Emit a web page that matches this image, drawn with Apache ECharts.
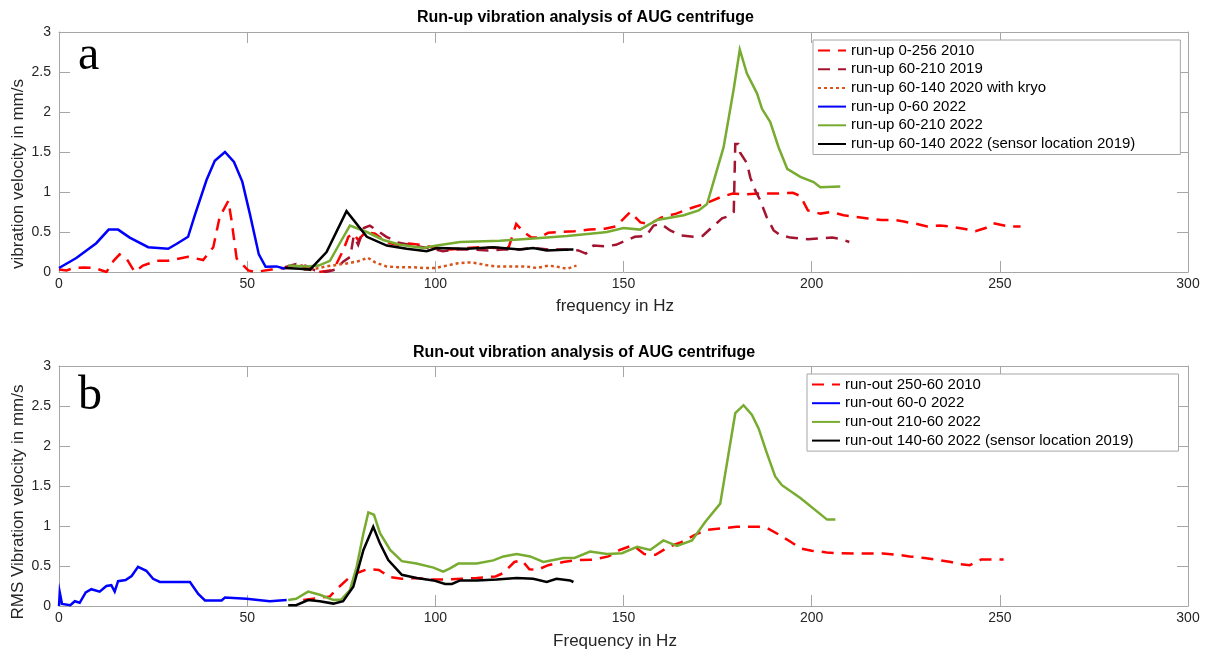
<!DOCTYPE html>
<html>
<head>
<meta charset="utf-8">
<title>AUG centrifuge vibration analysis</title>
<script src="https://cdn.jsdelivr.net/npm/echarts@6/dist/echarts.min.js"></script>
<style>
  html, body { margin: 0; padding: 0; background: #ffffff; }
  #chart { width: 1206px; height: 650px; }
</style>
</head>
<body>
<div id="chart"></div>
<script>
// ---- Axis ticks ----
const freqTicks = { min: 0, max: 300, step: 50 };
const velTicks = { min: 0, max: 3, step: 0.5 };

// ---- Run-up measurements: [frequency Hz, velocity mm/s] ----
const runUp2010 = [
  [0,0.03],[2,0.02],[4,0.05],[6.4,0.055],[9.5,0.05],[12.6,0.0],[14.5,0.14],[16.1,0.22],[17.9,0.17],
  [20.1,0.0],[22.3,0.08],[25.9,0.14],[29,0.14],[34.3,0.19],[38.3,0.15],[41,0.31],[42.7,0.69],
  [45,0.89],[45.8,0.66],[47.2,0.17],[50.3,0.02],[52,0.0],[56.5,0.03],[60,0.05],[64.5,0.08],
  [66.5,0.03],[69,0.0],[72,0.02],[73.5,0.08],[75.5,0.27],[76.9,0.44],[78.2,0.48],[79.5,0.4],
  [81.5,0.5],[84,0.48],[86.2,0.4],[88,0.36],[90,0.34],[93,0.355],[96,0.34],[100,0.3],[104,0.28],
  [108,0.3],[112,0.31],[116,0.3],[119.5,0.31],[121.5,0.6],[123.5,0.5],[125.5,0.43],[127.5,0.43],
  [130,0.49],[133,0.5],[137,0.51],[141,0.53],[145,0.54],[148,0.57],[151.8,0.75],[154.5,0.62],
  [157,0.6],[160,0.68],[164,0.73],[168,0.8],[172,0.86],[176,0.94],[179,0.98],[182,0.97],
  [186,0.98],[190,0.98],[195,0.99],[197,0.95],[199,0.77],[202.3,0.73],[205,0.75],[208.5,0.71],
  [211.6,0.69],[215,0.67],[218.6,0.65],[222,0.65],[224.5,0.63],[228,0.6],[230.7,0.57],[234,0.58],
  [236.5,0.57],[240.4,0.54],[243.5,0.51],[246.2,0.55],[248.3,0.61],[252.3,0.57],[255.5,0.57]
];
const runUp2019 = [
  [60,0.06],[63,0.1],[65.5,0.08],[68,0.02],[71,0.0],[73.5,0.03],[75.5,0.13],[77.4,0.19],[78.3,0.45],
  [79.5,0.34],[81,0.55],[82.6,0.58],[84.5,0.52],[87,0.44],[90,0.37],[94,0.33],[98,0.3],[102,0.26],
  [106,0.28],[110,0.28],[114,0.27],[118,0.28],[122,0.28],[126,0.3],[130,0.28],[134,0.28],[138,0.27],
  [140,0.23],[142,0.33],[145,0.32],[148,0.34],[151,0.4],[153,0.44],[156,0.45],[158,0.58],[160,0.6],
  [162.4,0.52],[165,0.46],[168.6,0.44],[171,0.45],[174,0.58],[176.2,0.67],[178,0.7],[179.3,0.75],
  [179.7,1.6],[180.5,1.6],[181,1.49],[182.8,1.36],[183.7,1.18],[185,1.02],[186.3,0.9],[188,0.69],
  [189.9,0.52],[191.7,0.46],[194.3,0.43],[197,0.42],[199,0.41],[202.5,0.42],[205.5,0.43],
  [208,0.41],[210,0.375]
];
const runUp2020Kryo = [
  [65,0.03],[68,0.04],[71,0.07],[74,0.09],[77,0.11],[80,0.14],[82,0.18],[84,0.12],[87,0.07],
  [90,0.06],[94,0.06],[97,0.05],[100,0.05],[103,0.08],[106,0.11],[109,0.12],[111,0.11],[113,0.09],
  [116,0.07],[120,0.07],[124,0.07],[127,0.05],[130,0.08],[132,0.07],[135,0.04],[137.5,0.08]
];
const runUp2022Low = [
  [0,0.05],[4.6,0.175],[9.9,0.36],[13.2,0.53],[15.7,0.53],[18.8,0.43],[23.7,0.31],[29,0.29],
  [31.2,0.35],[34.3,0.44],[36.1,0.71],[39.2,1.15],[41.4,1.39],[44.1,1.5],[46.5,1.375],[48.7,1.13],
  [50.7,0.73],[53.1,0.22],[54.9,0.065],[57.8,0.07],[60,0.04]
];
const runUp2022High = [
  [60.9,0.08],[66.2,0.07],[69,0.08],[72,0.14],[74.5,0.35],[77.3,0.58],[81.8,0.5],[86.2,0.4],
  [90.6,0.34],[96.8,0.3],[100.4,0.33],[106.6,0.375],[117.2,0.39],[126,0.42],[135,0.45],
  [143.8,0.49],[145.6,0.5],[150,0.55],[154.4,0.53],[158.9,0.65],[166,0.71],[170,0.77],[172.2,0.85],
  [176.6,1.56],[179.3,2.29],[180.9,2.78],[182.8,2.48],[185.5,2.23],[186.8,2.04],[189,1.875],
  [191.2,1.56],[193.5,1.29],[197,1.19],[200.5,1.125],[202.3,1.06],[207.6,1.07]
];
const runUp2022Sensor = [
  [60,0.05],[64,0.04],[66.7,0.03],[71.1,0.25],[76.4,0.76],[81.8,0.44],[87.1,0.33],[92.4,0.29],
  [97.7,0.26],[100.4,0.3],[108.4,0.29],[115.4,0.31],[122.5,0.28],[126,0.3],[129.6,0.27],
  [135.8,0.28],[136.7,0.28]
];

// ---- Run-out measurements: [frequency Hz, RMS velocity mm/s] ----
const runOut2010 = [
  [64.9,0.075],[69,0.1],[72,0.12],[74,0.22],[77,0.35],[79,0.41],[82,0.46],[85,0.45],[88,0.36],
  [91,0.34],[95,0.35],[99,0.33],[103,0.33],[107,0.34],[111,0.35],[116,0.37],[118,0.41],[121,0.55],
  [123,0.57],[125,0.46],[127,0.45],[130,0.51],[134,0.55],[138,0.575],[142,0.58],[146,0.62],
  [149,0.7],[152.5,0.76],[155.5,0.65],[158.5,0.64],[162,0.74],[165,0.79],[169,0.89],[172,0.95],
  [176,0.97],[180,0.99],[186,0.99],[188,0.98],[191,0.9],[194.5,0.8],[197,0.72],[200,0.69],
  [204,0.67],[207,0.66],[212,0.655],[219,0.655],[223,0.64],[226,0.62],[230,0.6],[233,0.58],
  [237,0.55],[239,0.525],[242,0.51],[245,0.58],[248,0.58],[251,0.58]
];
const runOut2022Low = [
  [0,0.0],[0.2,0.17],[0.8,0.025],[3,0.01],[4.2,0.06],[5.5,0.04],[7.1,0.17],[8.6,0.21],[10.8,0.18],
  [12.6,0.25],[13.9,0.26],[14.8,0.18],[15.7,0.31],[17.7,0.325],[19.3,0.375],[21,0.49],[21.4,0.5],
  [23.2,0.44],[25,0.34],[26.8,0.3],[31.2,0.3],[34.8,0.3],[37,0.15],[38.8,0.07],[43.2,0.07],
  [44.1,0.105],[49.8,0.09],[56,0.06],[60.5,0.075]
];
const runOut2022High = [
  [60.9,0.075],[63,0.09],[66.2,0.18],[69.3,0.14],[72.9,0.075],[75,0.08],[77.3,0.2],[79.1,0.49],
  [80.9,0.91],[82.2,1.17],[83.7,1.14],[85.3,0.91],[88,0.7],[91.1,0.56],[95,0.53],[99.5,0.48],
  [102.1,0.43],[103.9,0.47],[106.1,0.53],[111,0.53],[115.4,0.57],[118.1,0.62],[121.6,0.65],
  [125.2,0.62],[128.7,0.55],[131.4,0.575],[134,0.6],[137,0.6],[141.1,0.68],[145.6,0.65],
  [149.6,0.66],[153.6,0.74],[157.1,0.7],[160.6,0.82],[164.2,0.75],[168.2,0.82],[171.7,1.05],
  [175.7,1.28],[179.7,2.41],[181.9,2.51],[184.1,2.39],[185.9,2.22],[188.1,1.91],[190.3,1.62],
  [192.1,1.51],[197,1.35],[204.1,1.08],[206.3,1.08]
];
const runOut2022Sensor = [
  [60.9,0.01],[63,0.01],[66.2,0.075],[69.3,0.06],[72.9,0.03],[75.5,0.06],[78.2,0.24],[80.9,0.7],
  [83.5,0.99],[85.3,0.78],[87.5,0.575],[91.1,0.39],[95,0.35],[99.5,0.32],[102.6,0.275],
  [104.4,0.275],[106.6,0.32],[111,0.32],[116.3,0.33],[121.6,0.35],[126,0.34],[129.6,0.3],
  [132.2,0.34],[135.8,0.32],[136.7,0.3]
];

// ---- Series names ----
const upNames = [
  'run-up 0-256 2010',
  'run-up 60-210 2019',
  'run-up 60-140 2020 with kryo',
  'run-up 0-60 2022',
  'run-up 60-210 2022',
  'run-up 60-140 2022 (sensor location 2019)'
];
const outNames = [
  'run-out 250-60 2010',
  'run-out 60-0 2022',
  'run-out 210-60 2022',
  'run-out 140-60 2022 (sensor location 2019)'
];

const FONT = '"Liberation Sans", Arial, Helvetica, sans-serif';
const SERIF = '"Liberation Serif", "Times New Roman", serif';
const AXIS_GRAY = '#a6a6a6';
const LABEL_COLOR = '#262626';
const RED = '#ff0000', MAROON = '#a2142f', ORANGE = '#d95319',
      BLUE = '#0000ff', GREEN = '#77ac30', BLACK = '#000000';
const DASH = [12, 8];
const DOT = [3, 3];

function xAxisFor(gridIndex, position) {
  const main = position === 'bottom';
  return {
    gridIndex, type: 'value', position,
    min: freqTicks.min, max: freqTicks.max, interval: freqTicks.step,
    axisLine: { show: true, onZero: false, lineStyle: { color: AXIS_GRAY, width: 1 } },
    axisTick: { show: true, inside: true, length: 11, lineStyle: { color: AXIS_GRAY } },
    axisLabel: { show: main, color: LABEL_COLOR, fontSize: 14, fontFamily: FONT, margin: 5 },
    splitLine: { show: false }
  };
}
function yAxisFor(gridIndex, position) {
  const main = position === 'left';
  return {
    gridIndex, type: 'value', position,
    min: velTicks.min, max: velTicks.max, interval: velTicks.step,
    axisLine: { show: true, onZero: false, lineStyle: { color: AXIS_GRAY, width: 1 } },
    axisTick: { show: true, inside: true, length: 11, lineStyle: { color: AXIS_GRAY } },
    axisLabel: { show: main, color: LABEL_COLOR, fontSize: 14, fontFamily: FONT, margin: 8 },
    splitLine: { show: false }
  };
}
function line(name, data, color, xi, yi, dash, width) {
  return {
    name, type: 'line', data, xAxisIndex: xi, yAxisIndex: yi,
    symbol: 'none', showSymbol: false, smooth: false, clip: true,
    lineStyle: { color, width: width || 2.5, type: dash || 'solid', cap: 'butt', join: 'miter' },
    itemStyle: { color },
    emphasis: { disabled: true }
  };
}
function legendFor(names, left, top) {
  return {
    data: names, orient: 'vertical', left, top,
    backgroundColor: '#ffffff', borderColor: AXIS_GRAY, borderWidth: 1, borderRadius: 0,
    padding: [3, 45, 3, 4], itemGap: 3.7, itemWidth: 28, itemHeight: 15,
    itemStyle: { opacity: 0 },
    textStyle: { color: '#000000', fontSize: 15, fontFamily: FONT, lineHeight: 15 },
    selectedMode: false
  };
}
// axis titles and panel letters
function axisTitle(text, x, y, vertical) {
  return {
    type: 'text', x, y, rotation: vertical ? Math.PI / 2 : 0, silent: true,
    style: { text, font: '17px ' + FONT, fill: LABEL_COLOR, align: 'center', verticalAlign: 'middle' }
  };
}
function panelLetter(text, x, y) {
  return {
    type: 'text', x, y, silent: true,
    style: { text, font: '48px ' + SERIF, fill: '#000000', align: 'left', verticalAlign: 'top' }
  };
}

const chart = echarts.init(document.getElementById('chart'), null, { renderer: 'canvas' });
chart.setOption({
  animation: false,
  backgroundColor: '#ffffff',
  title: [
    { text: 'Run-up vibration analysis of AUG centrifuge', left: 417, top: 10, padding: 0,
      textStyle: { fontSize: 16, fontWeight: 'bold', color: '#000', fontFamily: FONT } },
    { text: 'Run-out vibration analysis of AUG centrifuge', left: 413, top: 345, padding: 0,
      textStyle: { fontSize: 16, fontWeight: 'bold', color: '#000', fontFamily: FONT } }
  ],
  grid: [
    { left: 59, right: 18, top: 32, height: 240 },
    { left: 59, right: 18, top: 366, height: 240 }
  ],
  xAxis: [
    xAxisFor(0, 'bottom'),
    xAxisFor(0, 'top'),
    xAxisFor(1, 'bottom'),
    xAxisFor(1, 'top')
  ],
  yAxis: [
    yAxisFor(0, 'left'),
    yAxisFor(0, 'right'),
    yAxisFor(1, 'left'),
    yAxisFor(1, 'right')
  ],
  legend: [
    legendFor(upNames, 813, 40),
    legendFor(outNames, 807, 374)
  ],
  graphic: [
    axisTitle('frequency in Hz', 615, 306, false),
    axisTitle('Frequency in Hz', 615, 641, false),
    axisTitle('vibration velocity in mm/s', 18, 174, true),
    axisTitle('RMS Vibration velocity in mm/s', 18, 502, true),
    panelLetter('a', 78, 32),
    panelLetter('b', 78, 372)
  ],
  series: [
    line(upNames[0], runUp2010, RED, 0, 0, DASH),
    line(upNames[1], runUp2019, MAROON, 0, 0, DASH),
    line(upNames[2], runUp2020Kryo, ORANGE, 0, 0, DOT),
    line(upNames[3], runUp2022Low, BLUE, 0, 0),
    line(upNames[4], runUp2022High, GREEN, 0, 0),
    line(upNames[5], runUp2022Sensor, BLACK, 0, 0),
    line(outNames[0], runOut2010, RED, 2, 2, DASH),
    line(outNames[1], runOut2022Low, BLUE, 2, 2),
    line(outNames[2], runOut2022High, GREEN, 2, 2),
    line(outNames[3], runOut2022Sensor, BLACK, 2, 2)
  ]
});
</script>
</body>
</html>
